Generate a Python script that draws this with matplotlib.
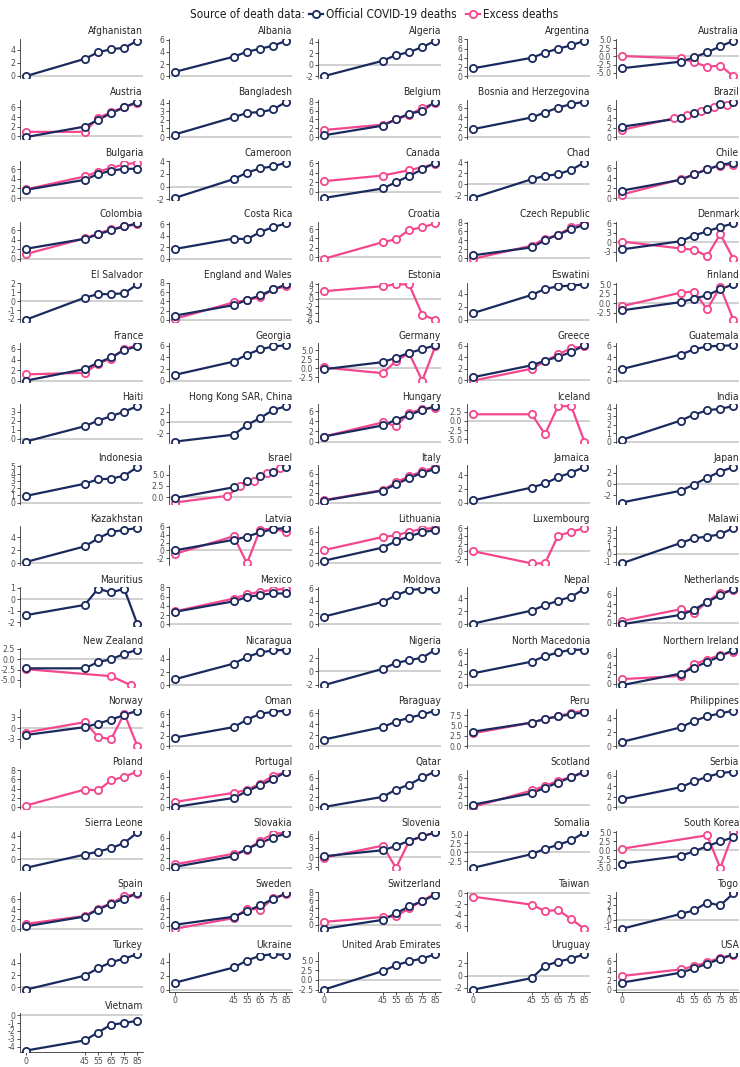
import matplotlib
matplotlib.use('Agg')
import matplotlib.pyplot as plt
from matplotlib import font_manager as fm
import numpy as np
import math

plt.rcParams['axes.unicode_minus'] = False


def pick_condensed():
    cands = [dict(family='Liberation Sans Narrow'), dict(family='Arial Narrow'),
             dict(family='DejaVu Sans', stretch='condensed'),
             dict(family='Roboto Condensed'), dict(family='Open Sans', stretch='condensed'),
             dict(family='Noto Sans', stretch='condensed')]
    for cd in cands:
        try:
            p = fm.findfont(fm.FontProperties(**cd), fallback_to_default=False)
        except Exception:
            continue
        base = p.lower().split('/')[-1]
        if ('narrow' in base or 'condensed' in base) and 'bold' not in base \
                and 'oblique' not in base and 'italic' not in base:
            return p
    return None


cpath = pick_condensed()
if cpath is not None:
    fm.fontManager.addfont(cpath)
    fp = fm.FontProperties(fname=cpath)
    plt.rcParams['font.family'] = [fp.get_name(), 'DejaVu Sans']
    try:
        ent = fm.ttfFontProperty(fm.get_font(cpath))
        plt.rcParams['font.stretch'] = ent.stretch
    except Exception:
        plt.rcParams['font.stretch'] = 'condensed'
    FS_TITLE, FS_TICK, FS_LEG = 7.3, 6.2, 8.4
else:
    plt.rcParams['font.family'] = ['Liberation Sans', 'DejaVu Sans']
    FS_TITLE, FS_TICK, FS_LEG = 7.0, 6.0, 8.2

AGES = [0, 45, 55, 65, 75, 85]

countries = [
    "Afghanistan", "Albania", "Algeria", "Argentina", "Australia",
    "Austria", "Bangladesh", "Belgium", "Bosnia and Herzegovina", "Brazil",
    "Bulgaria", "Cameroon", "Canada", "Chad", "Chile",
    "Colombia", "Costa Rica", "Croatia", "Czech Republic", "Denmark",
    "El Salvador", "England and Wales", "Estonia", "Eswatini", "Finland",
    "France", "Georgia", "Germany", "Greece", "Guatemala",
    "Haiti", "Hong Kong SAR, China", "Hungary", "Iceland", "India",
    "Indonesia", "Israel", "Italy", "Jamaica", "Japan",
    "Kazakhstan", "Latvia", "Lithuania", "Luxembourg", "Malawi",
    "Mauritius", "Mexico", "Moldova", "Nepal", "Netherlands",
    "New Zealand", "Nicaragua", "Nigeria", "North Macedonia", "Northern Ireland",
    "Norway", "Oman", "Paraguay", "Peru", "Philippines",
    "Poland", "Portugal", "Qatar", "Scotland", "Serbia",
    "Sierra Leone", "Slovakia", "Slovenia", "Somalia", "South Korea",
    "Spain", "Sweden", "Switzerland", "Taiwan", "Togo",
    "Turkey", "Ukraine", "United Arab Emirates", "Uruguay", "USA",
    "Vietnam",
]

# Official COVID-19 deaths (values at AGES)
official = {
    "Afghanistan": [-0.1, 2.6, 3.6, 4.1, 4.3, 5.4],
    "Albania": [0.7, 3.2, 4.0, 4.5, 5.0, 5.8],
    "Algeria": [-2.0, 0.7, 1.7, 2.2, 3.1, 4.2],
    "Argentina": [1.7, 4.0, 5.1, 6.0, 6.7, 7.7],
    "Australia": [-3.6, -1.6, -0.3, 1.2, 3.0, 4.7],
    "Austria": [-0.2, 2.0, 3.4, 4.8, 6.0, 7.2],
    "Bangladesh": [0.3, 2.3, 2.8, 2.9, 3.2, 4.1],
    "Belgium": [0.4, 2.6, 4.0, 5.3, 5.9, 8.0],
    "Bosnia and Herzegovina": [1.6, 4.0, 5.0, 6.0, 6.7, 7.2],
    "Brazil": [2.2, 4.0, 5.0, 6.0, 7.0, 7.5],
    "Bulgaria": [1.7, 3.8, 5.0, 5.7, 6.1, 6.1],
    "Cameroon": [-1.8, 1.2, 2.2, 2.9, 3.2, 3.8],
    "Canada": [-1.3, 0.7, 2.0, 3.3, 4.7, 6.1],
    "Chad": [-2.5, 0.9, 1.5, 1.8, 2.6, 3.9],
    "Chile": [1.5, 3.7, 4.8, 5.8, 6.7, 7.2],
    "Colombia": [2.1, 4.2, 5.1, 6.0, 6.8, 7.4],
    "Costa Rica": [1.7, 3.5, 3.4, 4.6, 5.5, 6.1],
    "Croatia": None,
    "Czech Republic": [0.6, 2.4, 4.0, 5.3, 6.5, 7.5],
    "Denmark": [-2.3, 0.3, 2.1, 3.4, 4.8, 5.9],
    "El Salvador": [-2.1, 0.4, 0.8, 0.8, 0.9, 1.9],
    "England and Wales": [0.9, 3.2, 4.3, 5.3, 6.6, 7.7],
    "Estonia": None,
    "Eswatini": [1.0, 3.8, 4.7, 5.1, 5.2, 5.4],
    "Finland": [-1.9, 0.3, 1.2, 2.1, 3.7, 5.0],
    "France": [0.0, 2.2, 3.4, 4.4, 5.8, 6.5],
    "Georgia": [1.0, 3.3, 4.5, 5.4, 5.9, 6.1],
    "Germany": [-0.3, 1.7, 2.9, 4.3, 5.3, 6.4],
    "Greece": [0.5, 2.6, 3.4, 4.1, 4.9, 6.1],
    "Guatemala": [2.0, 4.5, 5.4, 5.9, 6.0, 6.1],
    "Haiti": [-0.3, 1.4, 2.0, 2.5, 3.0, 3.6],
    "Hong Kong SAR, China": [-3.6, -2.3, -0.5, 0.8, 2.3, 3.0],
    "Hungary": [1.0, 3.2, 4.3, 5.3, 6.2, 7.0],
    "Iceland": None,
    "India": [0.2, 2.5, 3.2, 3.7, 3.9, 4.2],
    "Indonesia": [0.9, 2.6, 3.2, 3.3, 3.7, 4.9],
    "Israel": [-0.2, 2.2, 3.5, 4.6, 5.6, 6.7],
    "Italy": [0.4, 2.5, 3.8, 5.1, 6.2, 7.0],
    "Jamaica": [0.3, 2.2, 2.8, 3.7, 4.4, 5.2],
    "Japan": [-3.3, -1.2, -0.1, 1.1, 2.2, 3.0],
    "Kazakhstan": [0.2, 2.6, 3.8, 4.8, 5.1, 5.4],
    "Latvia": [0.0, 2.7, 3.5, 4.6, 5.4, 5.7],
    "Lithuania": [0.5, 3.0, 4.2, 5.1, 5.9, 6.3],
    "Luxembourg": None,
    "Malawi": [-1.2, 1.4, 2.0, 2.2, 2.5, 3.3],
    "Mauritius": [-1.4, -0.5, 0.9, 0.6, 0.9, -2.2],
    "Mexico": [2.7, 5.0, 5.9, 6.4, 6.7, 6.7],
    "Moldova": [1.3, 3.8, 4.9, 5.8, 6.0, 5.9],
    "Nepal": [0.1, 2.1, 2.9, 3.6, 4.2, 5.4],
    "Netherlands": [-0.3, 1.7, 2.8, 4.4, 5.9, 7.2],
    "New Zealand": [-2.2, -2.2, -0.7, 0.0, 1.3, 2.3],
    "Nicaragua": [0.9, 3.3, 4.3, 5.0, 5.3, 5.4],
    "Nigeria": [-2.1, 0.4, 1.3, 1.7, 2.1, 3.3],
    "North Macedonia": [2.2, 4.4, 5.4, 6.1, 6.6, 6.6],
    "Northern Ireland": [-0.3, 2.2, 3.5, 4.7, 5.9, 7.3],
    "Norway": [-1.9, 0.3, 1.3, 2.4, 3.7, 4.9],
    "Oman": [1.6, 3.6, 5.0, 6.1, 6.5, 6.7],
    "Paraguay": [1.2, 3.5, 4.5, 5.2, 5.8, 6.5],
    "Peru": [3.5, 5.7, 6.6, 7.2, 7.7, 8.2],
    "Philippines": [0.6, 2.7, 3.6, 4.3, 4.7, 5.1],
    "Poland": None,
    "Portugal": [0.0, 1.8, 3.1, 4.3, 5.5, 7.0],
    "Qatar": [0.0, 2.1, 3.6, 4.6, 6.1, 7.3],
    "Scotland": [0.1, 2.6, 3.8, 4.9, 6.1, 7.3],
    "Serbia": [1.5, 3.8, 4.9, 5.8, 6.5, 6.8],
    "Sierra Leone": [-1.5, 0.8, 1.3, 1.9, 2.8, 4.6],
    "Slovakia": [0.2, 2.3, 3.8, 4.9, 6.0, 6.8],
    "Slovenia": [0.3, 2.2, 3.5, 5.1, 6.5, 7.7],
    "Somalia": [-4.4, -0.5, 1.0, 2.1, 3.4, 5.6],
    "South Korea": [-3.8, -1.6, -0.3, 1.1, 2.5, 3.6],
    "Spain": [0.5, 2.5, 3.9, 5.1, 6.1, 7.2],
    "Sweden": [0.2, 2.0, 3.3, 4.5, 6.0, 7.2],
    "Switzerland": [-1.0, 1.2, 2.8, 4.5, 5.8, 7.4],
    "Taiwan": None,
    "Togo": [-1.3, 0.8, 1.3, 2.4, 2.0, 3.7],
    "Turkey": [-0.4, 1.9, 3.1, 4.1, 4.7, 5.4],
    "Ukraine": [1.0, 3.2, 4.2, 4.9, 5.1, 5.0],
    "United Arab Emirates": [-2.5, 2.3, 3.8, 4.8, 5.5, 6.6],
    "Uruguay": [-2.3, -0.4, 1.6, 2.3, 2.8, 3.5],
    "USA": [1.5, 3.6, 4.5, 5.5, 6.5, 7.5],
    "Vietnam": [-4.5, -3.2, -2.2, -1.2, -1.0, -0.7],
}

# Excess deaths (values at AGES unless listed in excess_ages)
excess = {
    "Australia": [0.1, -0.6, -1.8, -3.1, -2.8, -6.0],
    "Austria": [0.9, 0.9, 3.8, 5.0, 6.1, 6.9],
    "Belgium": [1.6, 2.8, 4.0, 5.0, 6.6, 7.7],
    "Brazil": [1.5, 4.0, 4.7, 5.5, 6.3, 6.9],
    "Bulgaria": [1.8, 4.5, 5.5, 6.3, 7.0, 7.4],
    "Canada": [2.2, 3.4, 4.5, 5.8],
    "Chile": [0.7, 3.8, 4.8, 5.9, 6.6, 6.8],
    "Colombia": [1.0, 4.3, 5.3, 6.2, 6.8, 7.2],
    "Croatia": [-0.4, 3.2, 3.8, 5.8, 6.4, 7.2],
    "Czech Republic": [-0.2, 2.8, 4.4, 5.2, 7.0, 7.8],
    "Denmark": [0.2, -2.0, -2.4, -4.4, 2.6, -5.3],
    "England and Wales": [0.2, 3.8, 4.3, 4.9, 6.6, 7.3],
    "Estonia": [2.1, 3.5, 4.0, 4.0, -4.4, -5.8],
    "Finland": [-0.8, 2.8, 3.1, -1.6, 4.3, -4.4],
    "France": [1.2, 1.5, 3.2, 4.2, 6.0, 6.7],
    "Germany": [0.2, -1.4, 2.0, 4.2, -3.5, 6.2],
    "Greece": [-0.1, 2.0, 3.3, 4.5, 5.6, 5.9],
    "Hungary": [1.0, 3.8, 3.1, 5.6, 6.5, 6.7],
    "Iceland": [1.8, 1.8, -3.6, 4.0, 4.0, -5.6],
    "Israel": [-1.2, 0.3, 2.4, 3.7, 5.3, 6.4],
    "Italy": [0.5, 2.6, 4.2, 5.5, 6.5, 7.4],
    "Latvia": [-0.9, 3.6, -3.3, 5.3, 5.5, 4.7],
    "Lithuania": [2.5, 5.0, 5.3, 6.0, 6.5, 6.7],
    "Luxembourg": [0.1, -3.1, -3.1, 4.1, 5.1, 6.1],
    "Mexico": [2.8, 5.6, 6.5, 7.1, 7.5, 7.7],
    "Netherlands": [0.4, 2.9, 2.0, 4.5, 6.4, 6.9],
    "New Zealand": [-2.4, -4.1, -6.3],
    "Northern Ireland": [1.0, 1.7, 4.2, 5.2, 6.2, 6.9],
    "Norway": [-1.2, 1.7, -2.4, -3.1, 4.1, -5.0],
    "Peru": [3.1, 5.7, 6.6, 7.3, 8.0, 8.6],
    "Poland": [0.3, 3.8, 3.6, 5.8, 6.6, 7.7],
    "Portugal": [1.0, 2.8, 3.4, 4.6, 6.2, 6.9],
    "Scotland": [-0.4, 3.2, 4.2, 5.3, 6.1, 7.1],
    "Slovakia": [0.7, 2.8, 3.5, 5.4, 6.7, 7.0],
    "Slovenia": [-0.1, 3.6, -3.3, 5.0, 6.5, 7.7],
    "South Korea": [0.4, 4.2, -5.0, 5.0],
    "Spain": [1.0, 2.6, 4.1, 5.2, 6.6, 7.1],
    "Sweden": [-0.7, 1.7, 3.8, 3.6, 6.1, 7.0],
    "Switzerland": [0.7, 1.9, 2.1, 4.0, 5.9, 7.7],
    "Taiwan": [-0.6, -2.1, -3.3, -3.1, -4.8, -6.6],
    "USA": [2.9, 4.3, 5.0, 5.8, 6.8, 7.3],
}

excess_ages = {
    "Brazil": [0, 40, 50, 60, 70, 80],
    "Israel": [0, 40, 50, 60, 70, 80],
    "Canada": [0, 45, 65, 85],
    "New Zealand": [0, 65, 80],
    "South Korea": [0, 65, 75, 85],
}

# y tick spacing per panel
ystep = {c: 2 for c in countries}
ystep.update({
    "Australia": 2.5, "Finland": 2.5, "Germany": 2.5, "Iceland": 2.5, "Israel": 2.5,
    "New Zealand": 2.5, "Peru": 2.5, "Somalia": 2.5, "South Korea": 2.5,
    "United Arab Emirates": 2.5,
    "Denmark": 3, "Norway": 3, "Slovenia": 3,
    "Bangladesh": 1, "El Salvador": 1, "Haiti": 1, "India": 1, "Indonesia": 1,
    "Malawi": 1, "Mauritius": 1, "Togo": 1, "Vietnam": 1,
})

legend_title = "Source of death data:"
series_labels = ["Official COVID-19 deaths", "Excess deaths"]

NAVY = '#1b2a5e'
PINK = '#f4468e'
ZERO = '#c4c4c4'
AXC = '#333333'
TXT = '#4d4d4d'

W, H = 740, 1067
fig = plt.figure(figsize=(W / 100, H / 100), dpi=100)
fig.patch.set_facecolor('white')

col_left = [20, 169, 318, 467, 616]
pw = 123
row_top0 = 39.0
pitch = 60.9
ph = 39.0
n = len(countries)

lw = 1.6
ms = 5.2
mew = 1.3


def draw_series(ax, xs, ys, color, z):
    pts = [(x, y) for x, y in zip(xs, ys) if y is not None]
    px = [p[0] for p in pts]
    py = [p[1] for p in pts]
    ax.plot(px, py, color=color, lw=lw, zorder=z, solid_capstyle='round')
    return px, py


for i, c in enumerate(countries):
    r, k = divmod(i, 5)
    left = col_left[k]
    top = row_top0 + r * pitch
    ax = fig.add_axes([left / W, 1 - (top + ph) / H, pw / W, ph / H])
    ax.set_facecolor('white')

    allv = [0.0]
    pts_layers = []
    ex = excess.get(c)
    if ex is not None:
        xs = excess_ages.get(c, AGES)
        px, py = draw_series(ax, xs, ex, PINK, 3)
        pts_layers.append((px, py, PINK))
        allv += py
    of = official.get(c)
    if of is not None:
        px, py = draw_series(ax, AGES, of, NAVY, 4)
        pts_layers.append((px, py, NAVY))
        allv += py
    for zi, (px, py, col) in enumerate(pts_layers):
        ax.plot(px, py, linestyle='none', marker='o', ms=ms, mfc='white',
                mec=col, mew=mew, zorder=5 + zi)

    ax.axhline(0, color=ZERO, lw=1.1, zorder=1)

    lo, hi = min(allv), max(allv)
    pad = 0.05 * (hi - lo)
    lo_e, hi_e = lo - pad, hi + pad
    ax.set_ylim(lo_e, hi_e)
    ax.set_xlim(-4.25, 89.25)

    s = ystep[c]
    t0 = math.ceil(lo_e / s - 1e-9) * s
    ticks = np.arange(t0, hi_e + 1e-9, s)
    ax.set_yticks(ticks)
    if s == 2.5:
        ax.set_yticklabels(['%.1f' % t for t in ticks])
    else:
        ax.set_yticklabels(['%d' % round(t) for t in ticks])

    for sp in ['top', 'right']:
        ax.spines[sp].set_visible(False)
    ax.spines['left'].set_color(AXC)
    ax.spines['left'].set_linewidth(0.6)
    ax.tick_params(axis='y', length=2.5, width=0.6, color=AXC, labelsize=FS_TICK,
                   labelcolor=TXT, pad=1)

    bottom_panel = (i + 5 >= n)
    if bottom_panel:
        ax.spines['bottom'].set_color(AXC)
        ax.spines['bottom'].set_linewidth(0.6)
        ax.set_xticks(AGES)
        ax.set_xticklabels([str(a) for a in AGES])
        ax.tick_params(axis='x', length=2.5, width=0.6, color=AXC, labelsize=FS_TICK,
                       labelcolor=TXT, pad=1)
    else:
        ax.spines['bottom'].set_visible(False)
        ax.set_xticks([])

    ax.text(1.0, 1.0 + 2.5 / ph, c, transform=ax.transAxes, ha='right', va='bottom',
            fontsize=FS_TITLE, color='#262626')

# legend (overlay in pixel coordinates), laid out from measured text widths
ov = fig.add_axes([0, 0, 1, 1], facecolor='none')
ov.set_xlim(0, W)
ov.set_ylim(H, 0)
ov.axis('off')
ly = 14
t_title = ov.text(0, ly, legend_title, ha='left', va='center', fontsize=FS_LEG, color='#1a1a1a')
t_a = ov.text(0, ly, series_labels[0], ha='left', va='center', fontsize=FS_LEG, color='#1a1a1a')
t_b = ov.text(0, ly, series_labels[1], ha='left', va='center', fontsize=FS_LEG, color='#1a1a1a')
fig.canvas.draw()
rend = fig.canvas.get_renderer()
w_title = t_title.get_window_extent(rend).width
w_a = t_a.get_window_extent(rend).width
w_b = t_b.get_window_extent(rend).width
key = 14
g1, g2, g3 = 4, 3, 10
total = w_title + g1 + key + g2 + w_a + g3 + key + g2 + w_b
x = 374 - total / 2
t_title.set_x(x)
x += w_title + g1
ov.plot([x, x + key], [ly, ly], color=NAVY, lw=lw)
ov.plot([x + key / 2], [ly], marker='o', ms=ms, mfc='white', mec=NAVY, mew=mew)
x += key + g2
t_a.set_x(x)
x += w_a + g3
ov.plot([x, x + key], [ly, ly], color=PINK, lw=lw)
ov.plot([x + key / 2], [ly], marker='o', ms=ms, mfc='white', mec=PINK, mew=mew)
x += key + g2
t_b.set_x(x)

fig.savefig('out.png', dpi=100, facecolor='white')
